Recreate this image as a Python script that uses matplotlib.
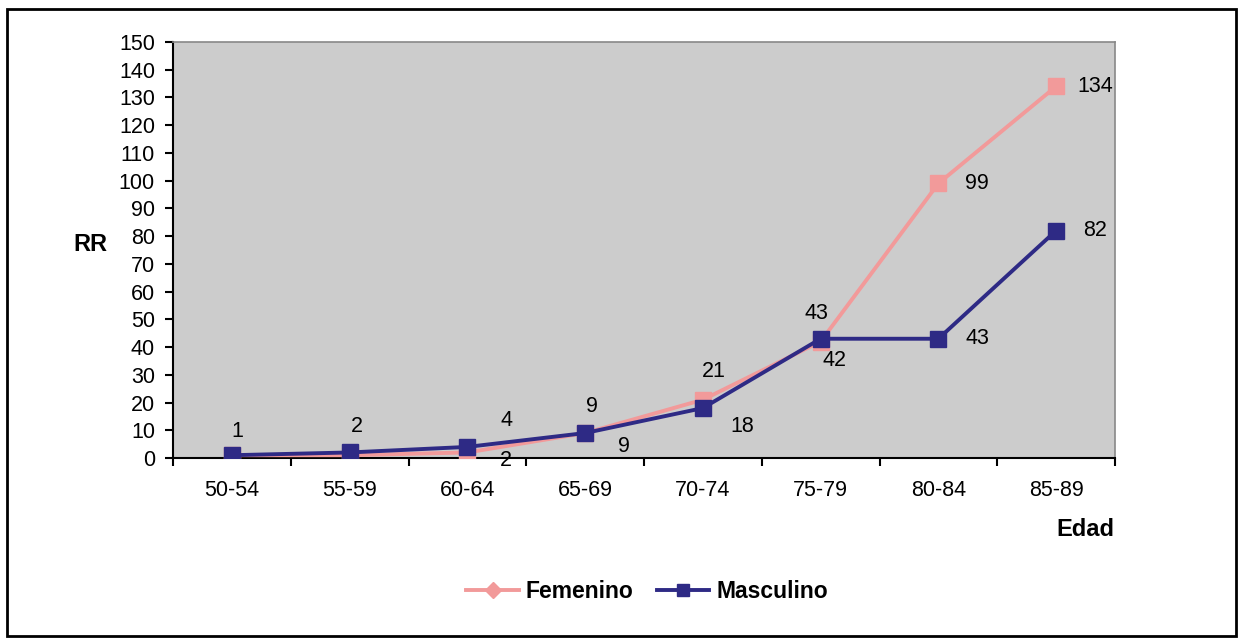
import matplotlib.pyplot as plt
from matplotlib.patches import Rectangle
from matplotlib.lines import Line2D

plt.rcParams['font.family'] = ['Liberation Sans', 'DejaVu Sans']

edades = ["50-54", "55-59", "60-64", "65-69", "70-74", "75-79", "80-84", "85-89"]
femenino = [1, 1, 2, 9, 21, 42, 99, 134]
masculino = [1, 2, 4, 9, 18, 43, 43, 82]

# label offsets (points) for each data label
off_fem = [None, None, (28, -6), (28, -10), (8, 20), (10, -14), (28, 0), (28, 0)]
off_masc = [(4, 17), (5, 19), (28, 19), (5, 19), (28, -13), (-3, 18), (28, 0), (28, 0)]

col_fem = '#F29A9A'
col_masc = '#2E2A85'

fig = plt.figure(figsize=(12.42, 6.38), dpi=100)
ax = fig.add_axes([173 / 1242, 1 - 458 / 638, (1115 - 173) / 1242, (458 - 42) / 638])
ax.set_facecolor('#CCCCCC')

x = list(range(len(edades)))
ax.plot(x, femenino, color=col_fem, lw=2.8, marker='s', ms=12, mec=col_fem, mfc=col_fem, zorder=3)
ax.plot(x, masculino, color=col_masc, lw=2.8, marker='s', ms=12, mec=col_masc, mfc=col_masc, zorder=4)

for i in x:
    if off_fem[i] is not None:
        ax.annotate(str(femenino[i]), (i, femenino[i]), xytext=off_fem[i], textcoords='offset points',
                    ha='center', va='center', fontsize=15.5)
    ax.annotate(str(masculino[i]), (i, masculino[i]), xytext=off_masc[i], textcoords='offset points',
                ha='center', va='center', fontsize=15.5)

ax.set_xlim(-0.5, len(edades) - 0.5)
ax.set_ylim(0, 150)
ax.set_yticks(range(0, 151, 10))
ax.set_xticks(x)
ax.set_xticklabels(edades, fontsize=15.5)
ax.set_xticks([i + 0.5 for i in range(-1, len(edades))], minor=True)
ax.tick_params(axis='x', which='major', length=0, pad=16)
ax.tick_params(axis='x', which='minor', length=6, width=1.5, direction='out')
ax.tick_params(axis='y', labelsize=15.5, length=6, width=1.5, direction='out', pad=7)
for s in ['top', 'right']:
    ax.spines[s].set_color('#888888')
    ax.spines[s].set_linewidth(1.2)
for s in ['left', 'bottom']:
    ax.spines[s].set_color('black')
    ax.spines[s].set_linewidth(1.5)

fig.text(90 / 1242, 1 - 245 / 638, 'RR', fontsize=17, fontweight='bold', ha='center', va='center')
fig.text(1114 / 1242, 1 - 530 / 638, 'Edad', fontsize=17, fontweight='bold', ha='right', va='center')

handles = [
    Line2D([], [], color=col_fem, lw=2.8, marker='D', ms=8, mfc=col_fem, mec=col_fem),
    Line2D([], [], color=col_masc, lw=2.8, marker='s', ms=9, mfc=col_masc, mec=col_masc),
]
fig.legend(handles, ['Femenino', 'Masculino'], loc='center', bbox_to_anchor=(647 / 1242, 1 - 592 / 638),
           ncol=2, frameon=False, prop={'weight': 'bold', 'size': 16.5}, handlelength=2.3,
           handletextpad=0.3, columnspacing=1.0)

fig.patches.append(Rectangle((7 / 1242, 2 / 638), 1229 / 1242, 627 / 638, transform=fig.transFigure,
                             fill=False, edgecolor='black', lw=2))

fig.savefig('out.png', dpi=100)
